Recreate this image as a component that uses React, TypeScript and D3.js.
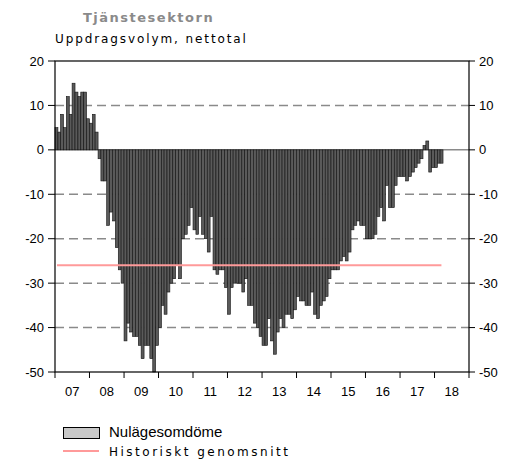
import * as d3 from 'd3'

// monthly net balance, Jan 2007 – Mar 2018
const values: number[] = [
  5, 4, 8, 5, 12, 8, 15, 13, 12, 13, 13, 7,
  6, 8, 4, -2, -7, -7, -17, -14, -16, -22, -27, -30,
  -43, -39, -41, -42, -42, -44, -47, -44, -44, -47, -50, -44,
  -40, -35, -37, -32, -30, -29, -26, -29, -20, -19, -17, -13,
  -18, -19, -15, -19, -20, -23, -15, -27, -28, -27, -27, -31,
  -37, -31, -30, -30, -30, -32, -29, -35, -35, -39, -40, -42,
  -44, -44, -38, -43, -46, -41, -38, -40, -37, -37, -38, -36,
  -33, -34, -34, -35, -35, -32, -37, -38, -35, -34, -33, -29,
  -27, -27, -27, -25, -24, -25, -23, -18, -17, -16, -17, -17,
  -20, -20, -20, -19, -15, -13, -16, -8, -13, -13, -8, -6,
  -6, -6, -7, -6, -5, -4, -3, -2, 1, 2, -5, -4,
  -4, -3, -3
]
const startYear = 2007
const yearLabels = ['07', '08', '09', '10', '11', '12', '13', '14', '15', '16', '17', '18']
const yTicks = [20, 10, 0, -10, -20, -30, -40, -50]
const histAvg = -26

const W = 525
const H = 459
const M = { left: 55, right: 469, top: 61, bottom: 372 }

export default function App() {
  const months = values.map((v, i) => ({ date: new Date(startYear, i, 1), v }))
  const x = d3.scaleTime()
    .domain([new Date(startYear, 0, 1), new Date(startYear + yearLabels.length, 0, 1)])
    .range([M.left, M.right])
  const y = d3.scaleLinear().domain([-50, 20]).range([M.bottom, M.top])
  const yearTicks = d3.range(yearLabels.length + 1).map(i => new Date(startYear + i, 0, 1))
  const lastMid = new Date(startYear, values.length - 1, 15)

  return (
    <svg width={W} height={H} style={{ position: 'absolute', left: 0, top: 0 }}>
      <rect width={W} height={H} fill="#fff" />
      <text x={83} y={22} fontFamily="DejaVu Sans" fontWeight="bold" fontSize={13} letterSpacing={1.5} fill="#8a8a8a">
        Tjänstesektorn
      </text>
      <text x={55} y={43} fontFamily="DejaVu Sans" fontSize={12} letterSpacing={1.9} fill="#000">
        Uppdragsvolym, nettotal
      </text>

      {/* grid */}
      {yTicks.filter(t => t !== 0 && t !== 20 && t !== -50).map(t => (
        <line key={t} x1={M.left} x2={M.right} y1={y(t)} y2={y(t)}
          stroke="#8a8a8a" strokeWidth={1.5} strokeDasharray="9,5" />
      ))}
      <line x1={M.left} x2={M.right} y1={y(0)} y2={y(0)} stroke="#8a8a8a" strokeWidth={1.5} />

      {/* bars */}
      {months.map((d, i) => {
        const x0 = x(d.date)
        const x1 = x(new Date(startYear, i + 1, 1))
        return (
          <rect key={i} x={x0} width={x1 - x0}
            y={Math.min(y(d.v), y(0))} height={Math.abs(y(d.v) - y(0))}
            fill="#5a5a5a" stroke="#111" strokeWidth={0.6} />
        )
      })}

      {/* historical average */}
      <line x1={x(months[0].date) + 2} x2={x(lastMid)} y1={y(histAvg)} y2={y(histAvg)}
        stroke="#ff9a9a" strokeWidth={2} />

      {/* frame */}
      <rect x={M.left} y={M.top} width={M.right - M.left} height={M.bottom - M.top}
        fill="none" stroke="#000" strokeWidth={1.2} />

      {/* y axes */}
      {yTicks.map(t => (
        <g key={t} fontFamily="Liberation Sans, Arial" fontSize={13}>
          <line x1={M.left - 7} x2={M.left} y1={y(t)} y2={y(t)} stroke="#000" />
          <line x1={M.right} x2={M.right + 6} y1={y(t)} y2={y(t)} stroke="#000" />
          <text x={M.left - 11} y={y(t)} dy="0.35em" textAnchor="end">{t}</text>
          <text x={M.right + 10} y={y(t)} dy="0.35em" textAnchor="start">{t}</text>
        </g>
      ))}

      {/* x axis */}
      {yearTicks.map((d, i) => (
        <line key={i} x1={x(d)} x2={x(d)} y1={M.bottom} y2={M.bottom + 6} stroke="#000" />
      ))}
      {yearLabels.map((l, i) => (
        <text key={l} x={(x(yearTicks[i]) + x(yearTicks[i + 1])) / 2} y={396}
          textAnchor="middle" fontFamily="Liberation Sans, Arial" fontSize={13}>{l}</text>
      ))}

      {/* legend */}
      <rect x={63.5} y={427.5} width={36} height={11} fill="#c8c8c8" stroke="#000" />
      <text x={109} y={437} fontFamily="Liberation Sans, Arial" fontSize={15}>Nulägesomdöme</text>
      <line x1={63} x2={99} y1={451} y2={451} stroke="#ff9a9a" strokeWidth={2} />
      <text x={109} y={456} fontFamily="DejaVu Sans" fontSize={12} letterSpacing={2.5}>Historiskt genomsnitt</text>
    </svg>
  )
}
